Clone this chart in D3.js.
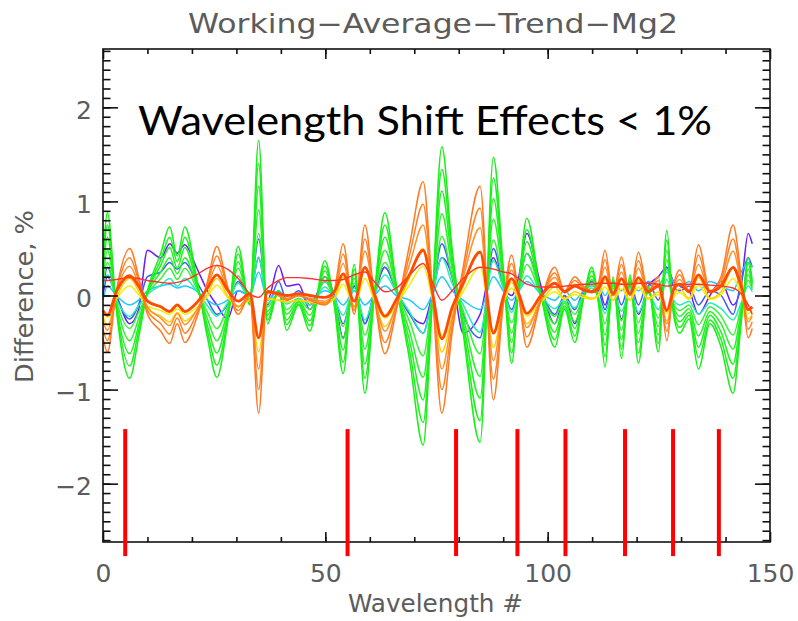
<!DOCTYPE html>
<html>
<head>
<meta charset="utf-8">
<script src="https://cdn.jsdelivr.net/npm/d3@7"></script>
<style>
  body { margin: 0; background: #fff; }
  svg { display: block; }
</style>
</head>
<body>
<svg id="chart" width="798" height="621"></svg>
<script>
// wavelength # at which each series was read
var wl = [0, 1, 3, 6, 8, 10, 13, 15, 16.7, 18.4, 21, 23.5, 25.6, 28, 30.4, 33, 35, 37, 39.5, 41.3,
  44, 46.5, 49.9, 52, 54, 56.5, 58.9, 61, 63.4, 66, 69, 72, 74, 76.2, 78.5, 81, 84.8, 87.8, 90, 91.9,
  93.5, 95.3, 98.5, 101.6, 103.8, 106.1, 108, 109.9, 111.5, 112.9, 114.7, 116.6, 118.5, 120.4, 122.6, 124.9, 126.8, 128.3,
  129.7, 131.8, 133.9, 136.5, 139, 141.7, 143.5, 145.1, 146];

var purple = [0.0, 0.2, 0.0, -0.3, -0.15, 0.48, 0.4, 0.55, 0.45, 0.54, 0.3, 0.05, -0.1, -0.25, 0.05, 0.0, 0.4, -0.05, 0.32, 0.1,
  0.12, -0.15, 0.2, 0.0, -0.45, 0.1, -0.3, 0.0, 0.3, 0.05, -0.2, -0.3, 0.0, 0.4, 0.2, -0.4, -0.2, 0.4, 0.1, 0.0,
  0.2, 0.66, 0.1, -0.3, 0.0, -0.3, 0.0, 0.15, 0.1, -0.1, 0.15, -0.25, 0.1, -0.2, 0.1, 0.2, 0.3, 0.15,
  0.1, 0.05, -0.2, 0.0, 0.15, -0.1, 0.1, 0.66, 0.55];
var blue = [0.05, 0.3, 0.0, -0.25, -0.1, 0.2, 0.25, 0.35, 0.28, 0.35, 0.15, -0.05, -0.2, -0.1, 0.15, 0.0, 0.6, -0.1, 0.15, -0.05,
  0.05, -0.1, 0.15, 0.0, -0.3, 0.1, -0.3, 0.05, 0.3, 0.05, -0.2, -0.4, 0.0, 0.55, 0.2, -0.2, -0.45, 0.5, 0.1, -0.15,
  0.1, 0.45, 0.05, -0.2, 0.0, -0.15, 0.05, 0.15, 0.05, -0.15, 0.15, -0.1, 0.15, -0.1, 0.15, -0.05, 0.3, 0.1,
  0.05, 0.1, -0.1, 0.05, 0.0, -0.2, 0.15, 0.4, 0.3];
var cyan = [-0.05, 0.1, 0.0, -0.1, -0.05, 0.05, 0.1, 0.12, 0.08, 0.1, 0.05, -0.05, -0.1, -0.05, 0.05, 0.0, 0.25, -0.05, 0.05, -0.05,
  0.0, -0.05, 0.05, 0.0, -0.1, 0.05, -0.1, 0.0, 0.1, 0.0, -0.05, -0.15, 0.0, 0.2, 0.05, -0.05, -0.15, 0.2, 0.05, -0.05,
  0.05, 0.15, 0.02, -0.05, 0.05, -0.05, 0.05, 0.1, 0.1, 0.0, 0.15, 0.05, 0.15, 0.05, 0.15, 0.1, 0.25, 0.15,
  0.1, 0.15, 0.05, 0.15, 0.1, 0.05, 0.25, 0.35, 0.3];
var teal = [0.09, 0.22, -0.04, -0.22, -0.11, 0.01, 0.11, 0.18, 0.1, 0.18, 0.05, -0.11, -0.22, -0.08, 0.13, -0.03, 0.41, -0.08, 0.01, -0.09,
  -0.03, -0.1, 0.09, -0.03, -0.21, 0.08, -0.26, 0.0, 0.22, 0.03, -0.18, -0.4, -0.03, 0.4, 0.13, -0.1, -0.39, 0.37, 0.08, -0.18,
  0.03, 0.21, 0.0, -0.14, -0.04, -0.13, -0.01, 0.08, -0.03, -0.19, 0.05, -0.17, 0.06, -0.18, 0.03, -0.15, 0.17, -0.05,
  -0.1, -0.06, -0.2, -0.08, -0.14, -0.26, -0.08, 0.1, 0.04];
var green1 = [0.35, 0.88, -0.15, -0.88, -0.45, 0.05, 0.45, 0.73, 0.42, 0.73, 0.2, -0.45, -0.87, -0.3, 0.52, -0.1, 1.65, -0.3, 0.05, -0.37,
  -0.1, -0.38, 0.37, -0.1, -0.83, 0.33, -1.04, 0.0, 0.88, 0.1, -0.7, -1.59, -0.1, 1.58, 0.5, -0.4, -1.56, 1.47, 0.3, -0.72,
  0.1, 0.82, 0.0, -0.55, -0.15, -0.5, -0.05, 0.3, -0.1, -0.76, 0.2, -0.67, 0.22, -0.72, 0.1, -0.6, 0.69, -0.2,
  -0.4, -0.25, -0.78, -0.3, -0.55, -1.04, -0.3, 0.4, 0.15];
var green2 = [0.3, 0.75, -0.13, -0.75, -0.38, 0.04, 0.38, 0.62, 0.36, 0.62, 0.17, -0.38, -0.74, -0.26, 0.44, -0.09, 1.4, -0.26, 0.04, -0.31,
  -0.09, -0.32, 0.31, -0.09, -0.71, 0.28, -0.88, 0.0, 0.75, 0.09, -0.6, -1.35, -0.09, 1.34, 0.43, -0.34, -1.33, 1.25, 0.26, -0.61,
  0.09, 0.7, 0.0, -0.47, -0.13, -0.43, -0.04, 0.26, -0.09, -0.65, 0.17, -0.57, 0.19, -0.61, 0.09, -0.51, 0.59, -0.17,
  -0.34, -0.21, -0.66, -0.26, -0.47, -0.88, -0.26, 0.34, 0.13];
var green3 = [0.25, 0.62, -0.11, -0.62, -0.32, 0.04, 0.32, 0.51, 0.29, 0.51, 0.14, -0.32, -0.61, -0.21, 0.36, -0.07, 1.16, -0.21, 0.04, -0.26,
  -0.07, -0.27, 0.26, -0.07, -0.58, 0.23, -0.73, 0.0, 0.62, 0.07, -0.49, -1.11, -0.07, 1.11, 0.35, -0.28, -1.09, 1.03, 0.21, -0.5,
  0.07, 0.57, 0.0, -0.39, -0.11, -0.35, -0.04, 0.21, -0.07, -0.53, 0.14, -0.47, 0.15, -0.5, 0.07, -0.42, 0.48, -0.14,
  -0.28, -0.18, -0.55, -0.21, -0.39, -0.73, -0.21, 0.28, 0.11];
var green4 = [0.19, 0.48, -0.08, -0.48, -0.25, 0.03, 0.25, 0.4, 0.23, 0.4, 0.11, -0.25, -0.48, -0.17, 0.29, -0.06, 0.91, -0.17, 0.03, -0.2,
  -0.06, -0.21, 0.2, -0.06, -0.46, 0.18, -0.57, 0.0, 0.48, 0.06, -0.39, -0.87, -0.06, 0.87, 0.28, -0.22, -0.86, 0.81, 0.17, -0.4,
  0.06, 0.45, 0.0, -0.3, -0.08, -0.28, -0.03, 0.17, -0.06, -0.42, 0.11, -0.37, 0.12, -0.4, 0.06, -0.33, 0.38, -0.11,
  -0.22, -0.14, -0.43, -0.17, -0.3, -0.57, -0.17, 0.22, 0.08];
var green5 = [0.14, 0.35, -0.06, -0.35, -0.18, 0.02, 0.18, 0.29, 0.17, 0.29, 0.08, -0.18, -0.35, -0.12, 0.21, -0.04, 0.66, -0.12, 0.02, -0.15,
  -0.04, -0.15, 0.15, -0.04, -0.33, 0.13, -0.42, 0.0, 0.35, 0.04, -0.28, -0.64, -0.04, 0.63, 0.2, -0.16, -0.62, 0.59, 0.12, -0.29,
  0.04, 0.33, 0.0, -0.22, -0.06, -0.2, -0.02, 0.12, -0.04, -0.3, 0.08, -0.27, 0.09, -0.29, 0.04, -0.24, 0.28, -0.08,
  -0.16, -0.1, -0.31, -0.12, -0.22, -0.42, -0.12, 0.16, 0.06];
var yellow1 = [-0.22, -0.32, -0.03, 0.18, 0.05, -0.14, -0.22, -0.28, -0.18, -0.27, -0.16, 0.02, 0.18, 0.0, -0.12, -0.05, -0.6, -0.03, -0.05, -0.07,
  -0.05, -0.07, -0.09, -0.03, 0.2, -0.14, 0.29, -0.05, -0.33, -0.12, 0.2, 0.5, 0.0, -0.6, -0.23, 0.1, 0.47, -0.55, -0.09, 0.14,
  -0.05, -0.3, -0.07, 0.09, -0.03, 0.04, 0.0, -0.03, 0.02, 0.17, -0.05, 0.13, -0.05, 0.16, -0.03, 0.04, -0.27, 0.0,
  0.07, -0.03, 0.19, -0.03, 0.04, 0.29, 0.04, -0.25, -0.2];
var yellow2 = [-0.17, -0.23, -0.04, 0.1, 0.01, -0.11, -0.16, -0.2, -0.14, -0.2, -0.13, -0.01, 0.11, -0.02, -0.11, -0.05, -0.43, -0.04, -0.05, -0.07,
  -0.05, -0.07, -0.08, -0.04, 0.12, -0.11, 0.18, -0.05, -0.24, -0.1, 0.12, 0.31, -0.02, -0.43, -0.17, 0.04, 0.3, -0.38, -0.08, 0.08,
  -0.05, -0.22, -0.07, 0.04, -0.04, 0.01, -0.02, -0.04, 0.0, 0.09, -0.05, 0.07, -0.05, 0.09, -0.04, 0.01, -0.19, -0.02,
  0.03, -0.04, 0.11, -0.04, 0.01, 0.18, 0.01, -0.19, -0.16];
var orange1 = [-0.45, -0.6, 0.05, 0.5, 0.2, -0.2, -0.38, -0.51, -0.3, -0.5, -0.25, 0.15, 0.52, 0.1, -0.2, 0.0, -1.25, 0.05, 0.0, -0.05,
  0.0, -0.05, -0.1, 0.05, 0.55, -0.2, 0.75, 0.0, -0.62, -0.15, 0.55, 1.21, 0.1, -1.25, -0.4, 0.3, 1.16, -1.11, -0.1, 0.43,
  0.0, -0.55, -0.05, 0.3, 0.05, 0.2, 0.1, 0.05, 0.15, 0.48, 0.0, 0.41, 0.0, 0.46, 0.05, 0.2, -0.48, 0.1,
  0.27, 0.05, 0.54, 0.05, 0.2, 0.75, 0.2, -0.45, -0.35];
var orange2 = [-0.36, -0.48, 0.04, 0.4, 0.16, -0.16, -0.3, -0.41, -0.24, -0.4, -0.2, 0.12, 0.42, 0.08, -0.16, 0.0, -1.0, 0.04, 0.0, -0.04,
  0.0, -0.04, -0.08, 0.04, 0.44, -0.16, 0.6, 0.0, -0.5, -0.12, 0.44, 0.97, 0.08, -1.0, -0.32, 0.24, 0.93, -0.89, -0.08, 0.34,
  0.0, -0.44, -0.04, 0.24, 0.04, 0.16, 0.08, 0.04, 0.12, 0.38, 0.0, 0.33, 0.0, 0.37, 0.04, 0.16, -0.38, 0.08,
  0.22, 0.04, 0.43, 0.04, 0.16, 0.6, 0.16, -0.36, -0.28];
var orange3 = [-0.28, -0.37, 0.03, 0.31, 0.12, -0.12, -0.24, -0.32, -0.19, -0.31, -0.16, 0.09, 0.32, 0.06, -0.12, 0.0, -0.78, 0.03, 0.0, -0.03,
  0.0, -0.03, -0.06, 0.03, 0.34, -0.12, 0.47, 0.0, -0.38, -0.09, 0.34, 0.75, 0.06, -0.78, -0.25, 0.19, 0.72, -0.69, -0.06, 0.27,
  0.0, -0.34, -0.03, 0.19, 0.03, 0.12, 0.06, 0.03, 0.09, 0.3, 0.0, 0.25, 0.0, 0.29, 0.03, 0.12, -0.3, 0.06,
  0.17, 0.03, 0.33, 0.03, 0.12, 0.47, 0.12, -0.28, -0.22];
var redSmooth = [0.16, 0.16, 0.17, 0.19, 0.18, 0.16, 0.14, 0.13, 0.14, 0.16, 0.22, 0.29, 0.32, 0.28, 0.18, 0.02, -0.02, 0.08, 0.16, 0.19,
  0.19, 0.18, 0.16, 0.16, 0.17, 0.22, 0.25, 0.15, 0.04, 0.08, 0.22, 0.34, 0.15, -0.05, 0.05, 0.18, 0.3, 0.28, 0.25, 0.23,
  0.18, 0.12, 0.09, 0.09, 0.1, 0.11, 0.12, 0.12, 0.13, 0.13, 0.13, 0.12, 0.12, 0.13, 0.13, 0.12, 0.1, 0.11,
  0.12, 0.12, 0.12, 0.11, 0.1, 0.08, 0.02, -0.1, -0.2];
var redMean = [-0.16, -0.21, 0.04, 0.21, 0.1, -0.06, -0.12, -0.17, -0.1, -0.17, -0.08, 0.08, 0.22, 0.06, -0.06, 0.02, -0.45, 0.04, 0.02, 0.0,
  0.02, 0.0, -0.02, 0.04, 0.23, -0.06, 0.3, 0.02, -0.22, -0.04, 0.23, 0.48, 0.06, -0.46, -0.13, 0.13, 0.46, -0.4, -0.02, 0.18,
  0.02, -0.19, 0.0, 0.13, 0.04, 0.1, 0.06, 0.04, 0.08, 0.2, 0.02, 0.18, 0.02, 0.19, 0.04, 0.1, -0.16, 0.06,
  0.12, 0.04, 0.22, 0.04, 0.1, 0.3, 0.1, -0.15, -0.12];

var shiftMarks = [5, 55, 79.4, 93.2, 104, 117.4, 128.2, 138.5];
var xMajor = [0, 50, 100, 150];
var yMajor = [-2, -1, 0, 1, 2];

// draw order follows the colour table: purple first, red last
var series = [
  {v: purple, c: "#6a1aff", w: 1.5},
  {v: blue, c: "#3d5cff", w: 1.5},
  {v: cyan, c: "#1ec8ff", w: 1.5},
  {v: teal, c: "#22f0b0", w: 1.5},
  {v: green5, c: "#3cf03c", w: 1.5},
  {v: green4, c: "#2cf02c", w: 1.5},
  {v: green3, c: "#22f022", w: 1.5},
  {v: green2, c: "#1ef01e", w: 1.5},
  {v: green1, c: "#18f018", w: 1.5},
  {v: yellow2, c: "#f0f000", w: 1.5},
  {v: yellow1, c: "#ffd000", w: 1.5},
  {v: orange3, c: "#ff9030", w: 1.5},
  {v: orange2, c: "#ff8228", w: 1.5},
  {v: orange1, c: "#ff7a22", w: 1.5},
  {v: redSmooth, c: "#ff3030", w: 1.4},
  {v: redMean, c: "#ff4a00", w: 2.8}
];

var svg = d3.select("#chart");
var L = 103, R = 770, T = 49, B = 542;
var x = d3.scaleLinear().domain([0, 150]).range([L, R]);
var y = d3.scaleLinear().domain([-2.62, 2.62]).range([B, T]);

var labelFont = "'DejaVu Sans', sans-serif";
var grey = "#5c5c5c";

svg.append("text")
  .attr("x", 188).attr("y", 33)
  .attr("textLength", 490).attr("lengthAdjust", "spacingAndGlyphs")
  .style("font-family", labelFont).style("font-size", "27px").style("fill", grey)
  .text("Working\u2212Average\u2212Trend\u2212Mg2");

var line = d3.line()
  .x(function (d, i) { return x(wl[i]); })
  .y(function (d) { return y(d); })
  .curve(d3.curveMonotoneX);

var plot = svg.append("g");
plot.selectAll("path").data(series).enter().append("path")
  .attr("d", function (s) { return line(s.v); })
  .attr("fill", "none")
  .attr("stroke", function (s) { return s.c; })
  .attr("stroke-width", function (s) { return s.w; })
  .attr("stroke-linejoin", "round");

// frame and ticks
svg.append("rect")
  .attr("x", L).attr("y", T).attr("width", R - L).attr("height", B - T)
  .attr("fill", "none").attr("stroke", "#111").attr("stroke-width", 1.6);

var yMinor = d3.range(-26, 27).map(function (k) { return k / 10; });
var xMinor = d3.range(10, 150, 10);

function tickAxis(axis, tx, ty) {
  var g = svg.append("g").attr("transform", "translate(" + tx + "," + ty + ")").call(axis);
  g.select(".domain").remove();
  g.selectAll(".tick line").attr("stroke", "#111").attr("stroke-width", 1.6);
  return g;
}

tickAxis(d3.axisLeft(y).tickValues(yMinor).tickSize(-7.5).tickFormat(""), L, 0);
tickAxis(d3.axisRight(y).tickValues(yMinor).tickSize(-7.5).tickFormat(""), R, 0);
tickAxis(d3.axisRight(y).tickValues(yMajor).tickSize(-15).tickFormat(""), R, 0);
var yg = tickAxis(d3.axisLeft(y).tickValues(yMajor).tickSize(-15).tickPadding(11)
  .tickFormat(function (d) { return d < 0 ? "\u2212" + Math.abs(d) : d; }), L, 0);
yg.selectAll("text").attr("dy", "0.44em")
  .style("font-family", labelFont).style("font-size", "25px").style("fill", grey);

tickAxis(d3.axisTop(x).tickValues(xMinor).tickSize(-5).tickFormat(""), 0, T);
tickAxis(d3.axisTop(x).tickValues(xMajor).tickSize(-10).tickFormat(""), 0, T);
tickAxis(d3.axisBottom(x).tickValues(xMinor).tickSize(-5).tickFormat(""), 0, B);
var xg = tickAxis(d3.axisBottom(x).tickValues(xMajor).tickSize(-10).tickPadding(22), 0, B);
xg.selectAll("text")
  .style("font-family", labelFont).style("font-size", "25px").style("fill", grey);

svg.append("text")
  .attr("x", 348).attr("y", 612)
  .attr("textLength", 175).attr("lengthAdjust", "spacingAndGlyphs")
  .style("font-family", labelFont).style("font-size", "24px").style("fill", grey)
  .text("Wavelength #");

svg.append("text")
  .attr("transform", "translate(33,383) rotate(-90)")
  .attr("textLength", 173).attr("lengthAdjust", "spacingAndGlyphs")
  .style("font-family", labelFont).style("font-size", "24px").style("fill", grey)
  .text("Difference, %");

// shift markers
svg.append("g").selectAll("line").data(shiftMarks).enter().append("line")
  .attr("x1", function (d) { return x(d); }).attr("x2", function (d) { return x(d); })
  .attr("y1", y(-1.42)).attr("y2", y(-2.77))
  .attr("stroke", "#ff0000").attr("stroke-width", 4);

svg.append("text")
  .attr("x", 138).attr("y", 135)
  .attr("textLength", 574).attr("lengthAdjust", "spacingAndGlyphs")
  .style("font-family", "Lato, 'Noto Sans', sans-serif").style("font-size", "40px").style("fill", "#000")
  .text("Wavelength Shift Effects < 1%");
</script>
</body>
</html>
